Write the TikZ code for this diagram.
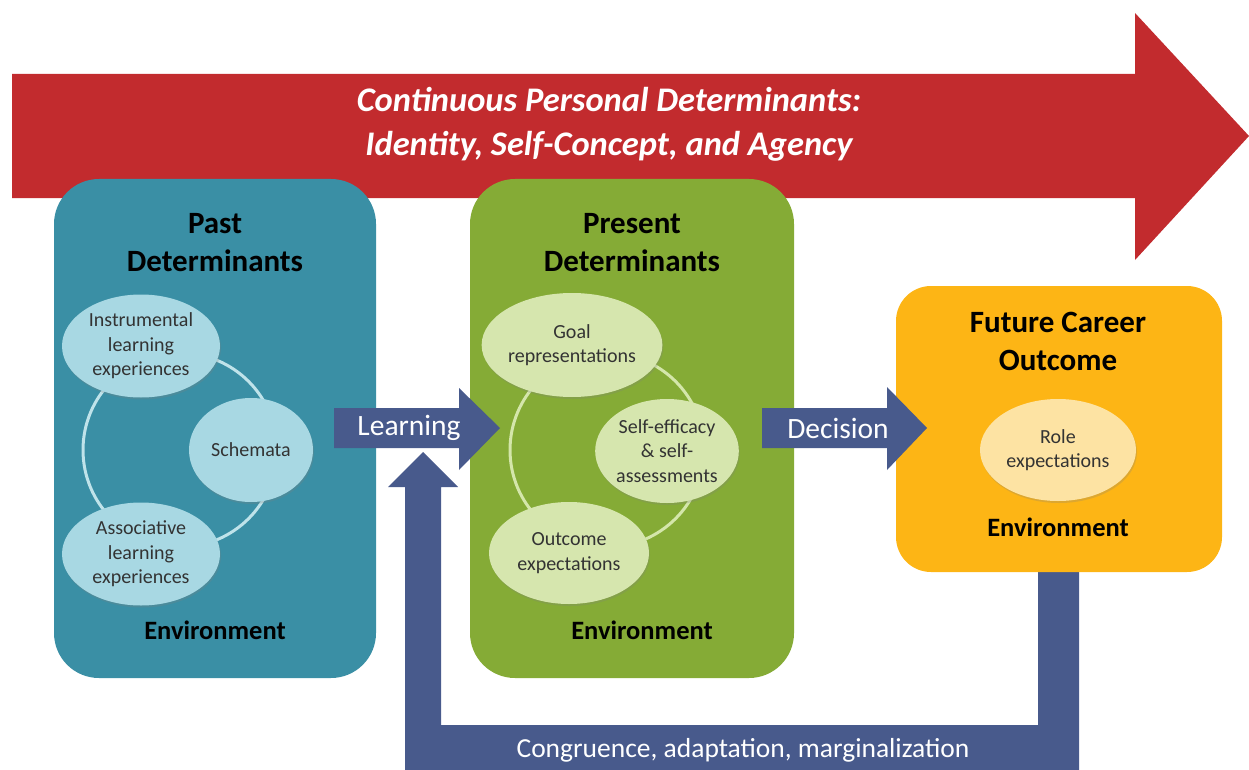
\documentclass[tikz,border=0pt]{standalone}
\usepackage{fontspec}
\setmainfont{Carlito}
\usetikzlibrary{shapes.geometric,shadows}
\definecolor{redA}{HTML}{C22B2E}
\definecolor{tealA}{HTML}{3A8FA5}
\definecolor{greenA}{HTML}{85AB36}
\definecolor{orangeA}{HTML}{FDB515}
\definecolor{navyA}{HTML}{485A8C}
\definecolor{lblue}{HTML}{A8D8E3}
\definecolor{lbluering}{HTML}{BFE3EA}
\definecolor{lgreen}{HTML}{D6E6AE}
\definecolor{lgreenring}{HTML}{D4E6AA}
\definecolor{lorange}{HTML}{FDE3A3}
\definecolor{txt}{HTML}{333333}
\begin{document}
\begin{tikzpicture}[x=1pt,y=-1pt,
  bigbox/.style={rounded corners=45pt},
  title/.style={align=center,font=\fontsize{31}{38}\selectfont\bfseries,text=black},
  envtext/.style={font=\fontsize{26.5}{30}\selectfont\bfseries,text=black},
  ell/.style={ellipse,inner sep=0pt,align=center,font=\fontsize{20}{24.5}\selectfont,text=txt,
    drop shadow={opacity=0.25,shadow xshift=1pt,shadow yshift=-2pt}},
  arrtext/.style={font=\fontsize{29.5}{34}\selectfont,text=white},
  ring/.style={line width=3pt}]
\useasboundingbox (0,0) rectangle (1249,770);

% big red arrow
\fill[redA] (12,74) -- (1135,74) -- (1135,13) -- (1249,136) -- (1135,260) -- (1135,198) -- (12,198) -- cycle;
\node[align=center,font=\fontsize{34.5}{44}\selectfont\bfseries\itshape,text=white] (cont) at (609,124)
  {Continuous Personal Determinants:\\Identity, Self-Concept, and Agency};

% feedback loop
\fill[navyA] (1038,560) -- (1079,560) -- (1079,770) -- (405,770) -- (405,487) -- (388,487)
  -- (423,452) -- (458,487) -- (441,487) -- (441,725) -- (1038,725) -- cycle;
\node[font=\fontsize{27.5}{30}\selectfont,text=white] (cong) at (743,750) {Congruence, adaptation, marginalization};

% boxes
\fill[tealA,bigbox] (54,179) rectangle (376,678);
\fill[greenA,bigbox] (470,179) rectangle (794,678);
\fill[orangeA,rounded corners=35pt] (896,286) rectangle (1222,572);

% past
\node[title] (pastt) at (215,243) {Past\\Determinants};
\draw[lbluering,ring] (180,450) circle[radius=97];
\node[ell,fill=lblue,minimum width=158pt,minimum height=103pt] (instr) at (141,346) {Instrumental\\learning\\experiences};
\node[ell,fill=lblue,minimum width=124pt,minimum height=104pt] (schem) at (251,450) {Schemata};
\node[ell,fill=lblue,minimum width=158pt,minimum height=103pt] (assoc) at (141,554) {Associative\\learning\\experiences};
\node[envtext] (env1) at (215,630) {Environment};

% present
\node[title] (prest) at (632,243) {Present\\Determinants};
\draw[lgreenring,ring] (607,450) circle[radius=97];
\node[ell,fill=lgreen,minimum width=160pt,minimum height=104pt] (goal) at (572,345) {Goal\\representations};
\node[ell,fill=lgreen,minimum width=128pt,minimum height=104pt] (selfe) at (667,451) {Self-efficacy\\\& self-\\assessments};
\node[ell,fill=lgreen,minimum width=160pt,minimum height=102pt] (outc) at (569,553) {Outcome\\expectations};
\node[envtext] (env2) at (642,630) {Environment};

% future
\node[title] (futt) at (1058,341) {Future Career\\Outcome};
\node[ell,fill=lorange,minimum width=156pt,minimum height=102pt] (role) at (1058,450) {Role\\expectations};
\node[envtext] (env3) at (1058,527) {Environment};

% learning arrow
\fill[navyA] (334,408) -- (459,408) -- (459,388) -- (500,428) -- (459,470) -- (459,448) -- (334,448) -- cycle;
\node[arrtext] (learn) at (409,428) {Learning};
% decision arrow
\fill[navyA] (762,408) -- (887,408) -- (887,387) -- (927,428) -- (887,470) -- (887,448) -- (762,448) -- cycle;
\node[arrtext] (dec) at (838,428) {Decision};
\end{tikzpicture}
\end{document}
